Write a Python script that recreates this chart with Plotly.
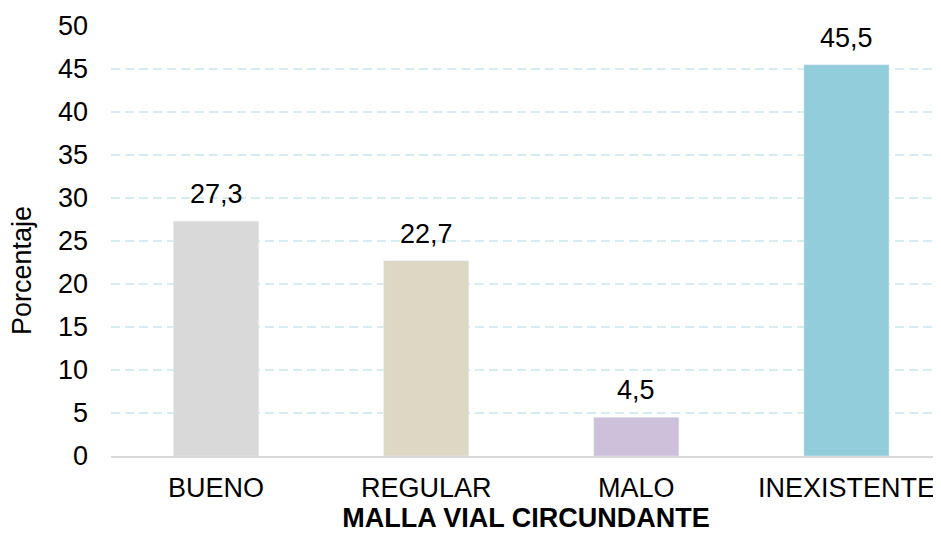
import plotly.graph_objects as go

categories = ["BUENO", "REGULAR", "MALO", "INEXISTENTE"]
values = [27.3, 22.7, 4.5, 45.5]
colors = ["#D9D9D9", "#DDD8C4", "#CCC0DA", "#92CDDC"]
y_ticks = [0, 5, 10, 15, 20, 25, 30, 35, 40, 45, 50]

FS = 27

fig = go.Figure(go.Bar(
    x=categories, y=values, marker_color=colors, width=0.405,
))

for c, v in zip(categories, values):
    fig.add_annotation(
        x=c, y=v, text=f"{v:.1f}".replace(".", ","), showarrow=False,
        yanchor="bottom", yshift=10, font=dict(size=FS, color="#000000"),
    )

# y-axis title placed as annotation (lower than plot centre, as in reference)
fig.add_annotation(
    text="Porcentaje", textangle=-90, showarrow=False,
    xref="paper", yref="paper", x=0, y=0.43, xanchor="center", yanchor="middle",
    xshift=-89, font=dict(size=FS, color="#000000"),
)

fig.update_layout(
    width=933, height=530,
    margin=dict(l=103, r=0, t=18, b=82),
    paper_bgcolor="white", plot_bgcolor="white",
    font=dict(family="Liberation Sans, Arial, sans-serif", size=FS, color="#000000"),
    separators=",.",
    showlegend=False,
)
fig.update_xaxes(
    range=[-0.5, 3.45], showgrid=False, showline=True, linecolor="#D9D9D9", linewidth=2,
    ticks="", ticklabelstandoff=7, tickfont=dict(size=FS),
    title=dict(text="<b>MALLA VIAL CIRCUNDANTE</b>", font=dict(size=FS), standoff=2),
)
fig.update_yaxes(
    range=[0, 50], tickvals=y_ticks, showgrid=True, gridcolor="#D6ECF3", griddash="9px,5px",
    gridwidth=1.5, zeroline=False, showline=False, ticks="", ticklabelstandoff=22,
    tickfont=dict(size=FS),
)

fig.write_html("out.html")
